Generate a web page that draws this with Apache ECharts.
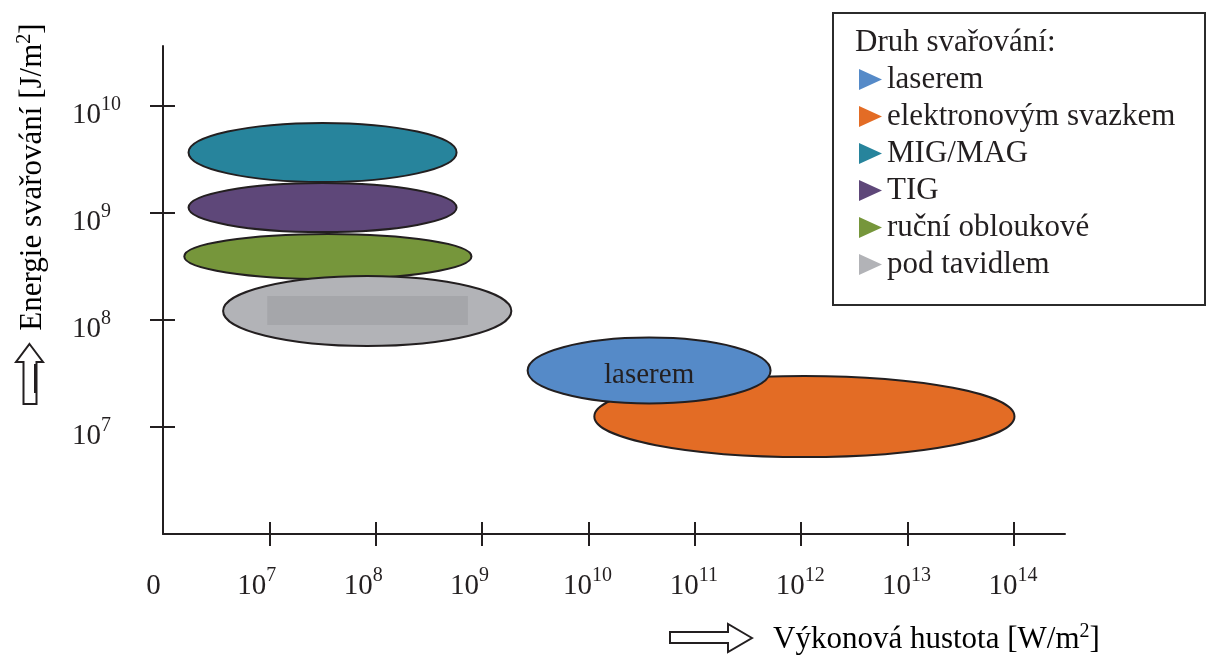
<!DOCTYPE html>
<html><head><meta charset="utf-8">
<script src="https://cdn.jsdelivr.net/npm/echarts@6/dist/echarts.min.js"></script>
<style>html,body{margin:0;padding:0;background:#fff}#c{width:1207px;height:660px}</style>
</head><body><div id="c"></div>
<script>
// Welding methods: ellipse regions in log10 units (x: power density W/m2, y: energy J/m2)
const methods = ['MIG/MAG', 'TIG', 'ruční obloukové', 'pod tavidlem', 'elektronovým svazkem', 'laserem'];
const centerX = [7.50, 7.50, 7.55, 7.92, 12.03, 10.57];
const centerY = [9.565, 9.05, 8.593, 8.084, 7.098, 7.528];
const spanX = [1.26, 1.26, 1.35, 1.355, 1.975, 1.142];
const spanY = [0.276, 0.229, 0.21, 0.327, 0.379, 0.308];
const colors = ['#27849C', '#5E4779', '#76963B', '#B2B3B7', '#E36C25', '#558AC8'];
const legendOrder = ['laserem', 'elektronovým svazkem', 'MIG/MAG', 'TIG', 'ruční obloukové', 'pod tavidlem'];
const podInner = [6.98, 7.953, 8.867, 8.224]; // x0, y0, x1, y1
const xTicks = [7, 8, 9, 10, 11, 12, 13, 14];
const xLabels = [6, 7, 8, 9, 10, 11, 12, 13, 14];
const yTicks = [7, 8, 9, 10];
const legendTitle = 'Druh svařování:';
const xTitle = 'Výkonová hustota [W/m';
const yTitle = 'Energie svařování [J/m';

const FONT = 'Liberation Serif';
const INK = '#231F20';

const rich = {
  b: {fontFamily: FONT, fontSize: 29, lineHeight: 28, padding: [20, 0, 2, 0], color: INK},
  s: {fontFamily: FONT, fontSize: 20, lineHeight: 20, padding: [14, 0, 16, 0], color: INK},
  s1: {fontFamily: FONT, fontSize: 20, lineHeight: 20, padding: [14, 25, 16, 0], color: INK},
  s2: {fontFamily: FONT, fontSize: 20, lineHeight: 20, padding: [14, 2, 16, 0], color: INK},
  z: {fontFamily: FONT, fontSize: 29, lineHeight: 28, padding: [20, 19, 2, 0], color: INK}
};
const titleRich = {
  t: {fontFamily: FONT, fontSize: 31, lineHeight: 31, padding: [15, 0, 0, 0], color: INK},
  u: {fontFamily: FONT, fontSize: 20, lineHeight: 20, padding: [13, 0, 13, 0], color: INK}
};

function fmtX(v) {
  if (v === 6) return '{z|0}';
  const e = String(v);
  return '{b|10}{' + (e.length === 1 ? 's1' : 's2') + '|' + e + '}';
}
function fmtY(v) {
  return '{b|10}{s|' + v + '}';
}

function renderItem(params, api) {
  const c = api.coord([api.value(0), api.value(1)]);
  const s = api.size([api.value(2), api.value(3)]);
  const name = methods[params.seriesIndex];
  const children = [{
    type: 'ellipse',
    shape: {cx: c[0], cy: c[1], rx: s[0], ry: s[1]},
    style: {fill: api.visual('color'), stroke: INK, lineWidth: 2}
  }];
  if (name === 'pod tavidlem') {
    const p0 = api.coord([podInner[0], podInner[3]]);
    const p1 = api.coord([podInner[2], podInner[1]]);
    children.push({type: 'rect', shape: {x: p0[0], y: p0[1], width: p1[0] - p0[0], height: p1[1] - p0[1]},
      style: {fill: '#A5A6AA'}});
  }
  if (name === 'laserem') {
    children.push({type: 'text', x: c[0], y: c[1] + 5,
      style: {text: 'laserem', fontFamily: FONT, fontSize: 29, fill: INK, align: 'center', verticalAlign: 'middle'}});
  }
  return {type: 'group', children: children};
}

const series = methods.map((m, i) => ({
  type: 'custom',
  name: m,
  renderItem: renderItem,
  itemStyle: {color: colors[i]},
  clip: false,
  data: [[centerX[i], centerY[i], spanX[i], spanY[i]]]
}));

const tickStyle = {color: INK, width: 2};
const option = {
  animation: false,
  backgroundColor: '#fff',
  title: {text: legendTitle, left: 855, top: 27, padding: 0,
    textStyle: {fontFamily: FONT, fontSize: 31, lineHeight: 31, fontWeight: 'normal', color: INK}},
  legend: {
    orient: 'vertical', left: 859, top: 64, padding: 0,
    itemWidth: 23, itemHeight: 21, itemGap: 6, selectedMode: false,
    data: legendOrder.map(n => ({name: n, icon: 'path://M0,0L23,10.5L0,21Z'})),
    textStyle: {fontFamily: FONT, fontSize: 31, color: INK}
  },
  grid: {left: 163, right: 142, top: 46, bottom: 126, containLabel: false},
  xAxis: [{
    type: 'value', min: 6, max: 14.48, interval: 1, position: 'bottom',
    axisLine: {show: true, onZero: false, lineStyle: {color: INK, width: 2}},
    axisTick: {show: true, length: 12, customValues: xTicks, lineStyle: tickStyle},
    axisLabel: {customValues: xLabels, formatter: fmtX, margin: 29, rich: rich},
    splitLine: {show: false}
  }, {
    type: 'value', min: 6, max: 14.48, interval: 1, position: 'bottom',
    axisLine: {show: false, onZero: false},
    axisTick: {show: true, inside: true, length: 12, customValues: xTicks, lineStyle: tickStyle},
    axisLabel: {show: false}, splitLine: {show: false}
  }],
  yAxis: [{
    type: 'value', min: 6, max: 10.56, interval: 1, position: 'left',
    axisLine: {show: true, onZero: false, lineStyle: {color: INK, width: 2}},
    axisTick: {show: true, length: 13, customValues: yTicks, lineStyle: tickStyle},
    axisLabel: {customValues: yTicks, formatter: fmtY, margin: 91, align: 'left', rich: rich},
    splitLine: {show: false}
  }, {
    type: 'value', min: 6, max: 10.56, interval: 1, position: 'left',
    axisLine: {show: false, onZero: false},
    axisTick: {show: true, inside: true, length: 12, customValues: yTicks, lineStyle: tickStyle},
    axisLabel: {show: false}, splitLine: {show: false}
  }],
  graphic: [
    {type: 'rect', shape: {x: 833, y: 13, width: 372, height: 292}, style: {fill: 'none', stroke: '#2b2b2b', lineWidth: 2}},
    {type: 'text', x: 773, y: 632,
      style: {text: '{t|' + xTitle + '}{u|2}{t|]}', rich: titleRich, align: 'left', verticalAlign: 'middle'}},
    {type: 'text', x: 25, y: 177, rotation: Math.PI / 2,
      style: {text: '{t|' + yTitle + '}{u|2}{t|]}', rich: titleRich, align: 'center', verticalAlign: 'middle'}},
    {type: 'polygon', shape: {points: [[752, 638], [728, 624], [728, 632], [670, 632], [670, 643], [728, 643], [728, 652]]},
      style: {fill: '#fff', stroke: INK, lineWidth: 2}},
    {type: 'polygon', shape: {points: [[29.5, 344], [43, 362], [36.5, 362], [36.5, 404], [23.5, 404], [23.5, 362], [16, 362]]},
      style: {fill: '#fff', stroke: INK, lineWidth: 2}},
    {type: 'line', shape: {x1: 35, y1: 364, x2: 35, y2: 393}, style: {stroke: INK, lineWidth: 2}}
  ],
  series: series
};

const chart = echarts.init(document.getElementById('c'), null, {renderer: 'canvas'});
chart.setOption(option);
</script>
</body></html>
